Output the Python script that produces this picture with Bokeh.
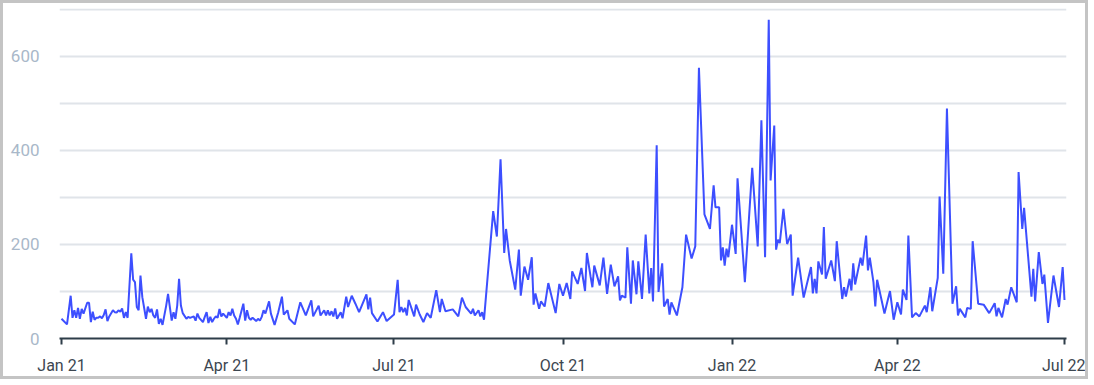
import pandas as pd
from bokeh.plotting import figure
from bokeh.models import Range1d, FixedTicker, DatetimeTickFormatter, ColumnDataSource
from bokeh.embed import file_html
from bokeh.resources import INLINE

# ---- data (month-day, per year) ----
days_2021 = [
    "01-01", "01-04", "01-06", "01-07", "01-08", "01-09", "01-10", "01-11", "01-12", "01-13",
    "01-15", "01-16", "01-17", "01-18", "01-19", "01-20", "01-21", "01-22", "01-23", "01-24",
    "01-25", "01-26", "01-27", "01-29", "01-30", "01-31", "02-01", "02-02", "02-03", "02-04",
    "02-05", "02-06", "02-08", "02-09", "02-10", "02-11", "02-12", "02-13", "02-14", "02-16",
    "02-17", "02-18", "02-19", "02-20", "02-21", "02-22", "02-23", "02-24", "02-25", "02-27",
    "02-28", "03-02", "03-03", "03-04", "03-05", "03-06", "03-07", "03-08", "03-10", "03-11",
    "03-12", "03-14", "03-15", "03-16", "03-17", "03-19", "03-20", "03-21", "03-22", "03-23",
    "03-24", "03-25", "03-26", "03-27", "03-28", "03-29", "03-30", "04-01", "04-02", "04-03",
    "04-04", "04-05", "04-06", "04-07", "04-08", "04-10", "04-11", "04-12", "04-13", "04-14",
    "04-15", "04-17", "04-18", "04-19", "04-20", "04-21", "04-22",
    "04-24", "04-25", "04-27", "04-29", "05-01", "05-02", "05-04", "05-05", "05-08", "05-11",
    "05-14", "05-17", "05-18", "05-21", "05-22", "05-24", "05-25", "05-26", "05-27", "05-28",
    "05-29", "05-30", "05-31", "06-02", "06-03", "06-05", "06-06", "06-08", "06-10", "06-12",
    "06-16", "06-17", "06-18", "06-19", "06-22", "06-25", "06-27", "07-01", "07-03", "07-04",
    "07-05", "07-06", "07-07", "07-08", "07-09", "07-12", "07-13", "07-15", "07-17", "07-19",
    "07-21", "07-24", "07-26", "07-27", "07-29", "08-02", "08-05", "08-07", "08-09", "08-12",
    "08-13", "08-14", "08-16", "08-17", "08-18", "08-19",
    "08-24", "08-26", "08-28", "08-30", "08-31", "09-02", "09-05", "09-07", "09-08", "09-10",
    "09-12", "09-14", "09-15", "09-16", "09-18", "09-19", "09-21", "09-23", "09-27", "09-29",
    "10-01", "10-03", "10-05", "10-06", "10-09", "10-11", "10-13", "10-14", "10-16", "10-17",
    "10-18", "10-21", "10-23", "10-25", "10-27", "10-29", "10-31", "11-01", "11-02", "11-04",
    "11-05", "11-07", "11-08", "11-10", "11-11", "11-13", "11-15", "11-17", "11-18", "11-19",
    "11-21", "11-22", "11-24", "11-25", "11-27", "11-28", "11-29", "12-02",
    "12-05", "12-07", "12-10", "12-12", "12-14", "12-17", "12-20", "12-22", "12-23", "12-25",
    "12-26", "12-27", "12-28", "12-29", "12-30",
]
values_2021 = [
    42, 30, 91, 44, 60, 44, 65, 42, 63, 53,
    76, 76, 35, 57, 40, 44, 44, 47, 43, 50,
    62, 37, 47, 60, 56, 55, 60, 57, 64, 44,
    56, 44, 181, 125, 120, 67, 60, 134, 88, 42,
    68, 56, 63, 49, 44, 62, 31, 42, 29, 70,
    95, 38, 56, 42, 70, 127, 70, 54, 42, 46,
    44, 47, 38, 53, 44, 35, 46, 56, 33, 46,
    35, 42, 47, 44, 63, 47, 53, 44, 56, 49,
    63, 49, 42, 30, 44, 74, 38, 60, 44, 40,
    44, 37, 42, 38, 46, 60, 53,
    79, 53, 29, 56, 89, 51, 60, 42, 30, 77,
    49, 81, 47, 70, 49, 60, 49, 60, 49, 58,
    47, 64, 42, 56, 43, 89, 67, 91, 74, 56,
    94, 62, 87, 54, 36, 56, 37, 51, 125, 56,
    67, 56, 65, 49, 82, 47, 72, 51, 35, 54,
    44, 103, 56, 84, 58, 62, 47, 87, 67, 53,
    63, 49, 60, 47, 56, 40,
    271, 217, 381, 182, 233, 166, 104, 189, 91, 153,
    125, 173, 72, 96, 63, 79, 68, 118, 54, 116,
    91, 118, 84, 143, 116, 150, 101, 182, 132, 109,
    155, 113, 172, 95, 157, 111, 132, 81, 91, 87,
    194, 74, 166, 94, 164, 84, 221, 96, 150, 79,
    411, 99, 160, 68, 84, 51, 77, 49,
    109, 221, 170, 196, 576, 264, 233, 326, 279, 279,
    166, 194, 155, 191, 173,
]
days_2022 = [
    "01-01", "01-03", "01-04", "01-08", "01-12", "01-15", "01-17", "01-19", "01-21", "01-22",
    "01-24", "01-25", "01-26", "01-27", "01-29", "01-31", "02-02", "02-03", "02-06", "02-09",
    "02-13", "02-14", "02-15", "02-16", "02-17", "02-19", "02-20", "02-21", "02-24", "02-26",
    "02-27", "03-02", "03-03", "03-04", "03-06", "03-07", "03-08", "03-09", "03-12", "03-13",
    "03-15",
    "03-16", "03-17", "03-19", "03-20", "03-21", "03-25", "03-28", "03-30", "04-01", "04-03",
    "04-04", "04-06", "04-07", "04-09", "04-11", "04-13", "04-16", "04-17", "04-19", "04-20",
    "04-23", "04-24", "04-26", "04-28", "05-01", "05-03", "05-04", "05-05", "05-08", "05-09",
    "05-11", "05-12", "05-15", "05-18", "05-21", "05-24", "05-25", "05-26", "05-28", "05-30",
    "05-31", "06-02", "06-05", "06-06", "06-08", "06-09", "06-13", "06-14", "06-15", "06-17",
    "06-19", "06-20", "06-22", "06-25", "06-28", "06-30", "07-01",
]
values_2022 = [
    242, 180, 341, 120, 363, 196, 464, 173, 678, 336,
    453, 189, 210, 203, 276, 201, 221, 91, 172, 87,
    152, 96, 127, 96, 164, 136, 237, 127, 166, 122,
    207, 84, 109, 89, 127, 102, 160, 115, 172, 155,
    219,
    145, 172, 120, 68, 125, 53, 101, 40, 77, 51,
    104, 82, 219, 45, 54, 47, 70, 56, 109, 58,
    129, 302, 138, 489, 74, 111, 49, 63, 45, 65,
    63, 207, 74, 72, 54, 75, 47, 65, 45, 84,
    72, 109, 77, 354, 233, 278, 89, 148, 79, 184,
    116, 136, 33, 134, 67, 152, 82,
]
assert len(days_2021) == len(values_2021)
assert len(days_2022) == len(values_2022)

x_tick_dates = ["2021-01-01", "2021-04-01", "2021-07-01", "2021-10-01",
                "2022-01-01", "2022-04-01", "2022-07-01"]
y_tick_values = [0, 200, 400, 600]
y_grid_values = [0, 100, 200, 300, 400, 500, 600, 700]

dates = pd.to_datetime(["2021-" + d for d in days_2021] + ["2022-" + d for d in days_2022])
values = values_2021 + values_2022
source = ColumnDataSource(data=dict(date=dates, value=values))

x_start = (pd.Timestamp(x_tick_dates[0]) - pd.Timedelta(hours=26)).to_pydatetime()
x_end = (pd.Timestamp(x_tick_dates[-1]) + pd.Timedelta(hours=26)).to_pydatetime()

p = figure(width=1088, height=379, x_axis_type="datetime",
           output_backend="svg", toolbar_location=None,
           x_range=Range1d(x_start, x_end), y_range=Range1d(0, 702),
           min_border_left=56, min_border_right=25,
           min_border_top=5, min_border_bottom=44)
p.styles = {"border": "3px solid #c4c4c4"}
p.outline_line_color = None
p.background_fill_color = "white"
p.border_fill_color = "white"

p.line(x="date", y="value", source=source, line_color="#3d4fff", line_width=2)

FONT = "Roboto"
# x axis
xa = p.xaxis[0]
xa.ticker = FixedTicker(ticks=[pd.Timestamp(d).value // 10**6 for d in x_tick_dates])
fmt = "%b %y"
xa.formatter = DatetimeTickFormatter(days=fmt, months=fmt, years=fmt, hours=fmt,
                                     minutes=fmt, seconds=fmt, milliseconds=fmt,
                                     minsec=fmt, hourmin=fmt)
xa.axis_line_color = "#2e3d49"
xa.axis_line_width = 2
xa.major_tick_line_color = "#2e3d49"
xa.major_tick_line_width = 2
xa.major_tick_out = 6
xa.major_tick_in = 0
xa.minor_tick_line_color = None
xa.major_label_text_color = "#3c4650"
xa.major_label_text_font = FONT
xa.major_label_text_font_size = "16px"
xa.major_label_standoff = 11

# y axis
ya = p.yaxis[0]
ya.ticker = FixedTicker(ticks=y_tick_values)
ya.axis_line_color = None
ya.major_tick_line_color = None
ya.minor_tick_line_color = None
ya.major_tick_out = 0
ya.major_tick_in = 0
ya.major_label_text_color = "#a9b8c9"
ya.major_label_text_font = FONT
ya.major_label_text_font_size = "17px"
ya.major_label_standoff = 20

# grid
p.xgrid.visible = False
p.ygrid.ticker = FixedTicker(ticks=y_grid_values)
p.ygrid.grid_line_color = "#e0e4e9"
p.ygrid.grid_line_width = 2

open("out.html", "w").write(file_html(p, INLINE))
